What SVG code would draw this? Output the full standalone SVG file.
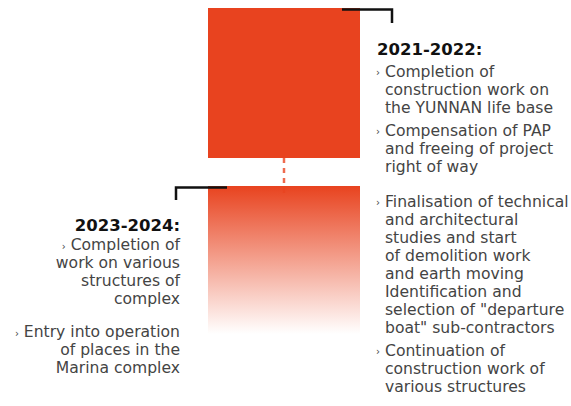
<svg xmlns="http://www.w3.org/2000/svg" width="571" height="406" viewBox="0 0 571 406">
<style>
.h{font-family:"DejaVu Sans",sans-serif;font-weight:bold;font-size:16.5px;fill:#111}
.t{font-family:"DejaVu Sans",sans-serif;font-size:15.6px;fill:#444}
.b{font-family:"DejaVu Sans",sans-serif;font-size:10px;fill:#444}
.br{fill:none;stroke:#111;stroke-width:2.5}
</style>
<defs>
<linearGradient id="g" x1="0" y1="0" x2="0" y2="1">
<stop offset="0" stop-color="#E8431F"/>
<stop offset="1" stop-color="#E8431F" stop-opacity="0"/>
</linearGradient>
</defs>
<g id="connectors">
<line x1="284" y1="158" x2="284" y2="194" stroke="#EE6B4F" stroke-width="2.5" stroke-dasharray="5 5"/>
</g>
<g id="node-2021">
<rect x="208" y="8" width="152" height="150" fill="#E8431F"/>
<path class="br" d="M342 9.5 H392 V23"/>
<text class="h" x="377" y="55">2021-2022:</text>
<g class="t">
<text class="b" x="376" y="76">›</text>
<text x="385" y="77">Completion of</text>
<text x="385" y="95">construction work on</text>
<text x="385" y="113">the YUNNAN life base</text>
<text class="b" x="376" y="135">›</text>
<text x="385" y="136">Compensation of PAP</text>
<text x="385" y="154">and freeing of project</text>
<text x="385" y="172">right of way</text>
<text class="b" x="376" y="206">›</text>
<text x="385" y="207">Finalisation of technical</text>
<text x="385" y="225">and architectural</text>
<text x="385" y="243">studies and start</text>
<text x="385" y="261">of demolition work</text>
<text x="385" y="279">and earth moving</text>
<text x="385" y="297">Identification and</text>
<text x="385" y="315">selection of "departure</text>
<text x="385" y="333">boat" sub-contractors</text>
<text class="b" x="376" y="355">›</text>
<text x="385" y="356">Continuation of</text>
<text x="385" y="374">construction work of</text>
<text x="385" y="392">various structures</text>
</g>
</g>
<g id="node-2023">
<rect x="208" y="186" width="152" height="148" fill="url(#g)"/>
<path class="br" d="M176 200 V187.5 H227"/>
<g text-anchor="end">
<text class="h" x="180" y="231">2023-2024:</text>
<text class="t" x="180" y="250"><tspan class="b">›</tspan> Completion of</text>
<text class="t" x="180" y="268">work on various</text>
<text class="t" x="180" y="286">structures of</text>
<text class="t" x="180" y="304">complex</text>
<text class="t" x="180" y="337"><tspan class="b">›</tspan> Entry into operation</text>
<text class="t" x="180" y="355">of places in the</text>
<text class="t" x="180" y="373">Marina complex</text>
</g>
</g>
</svg>
